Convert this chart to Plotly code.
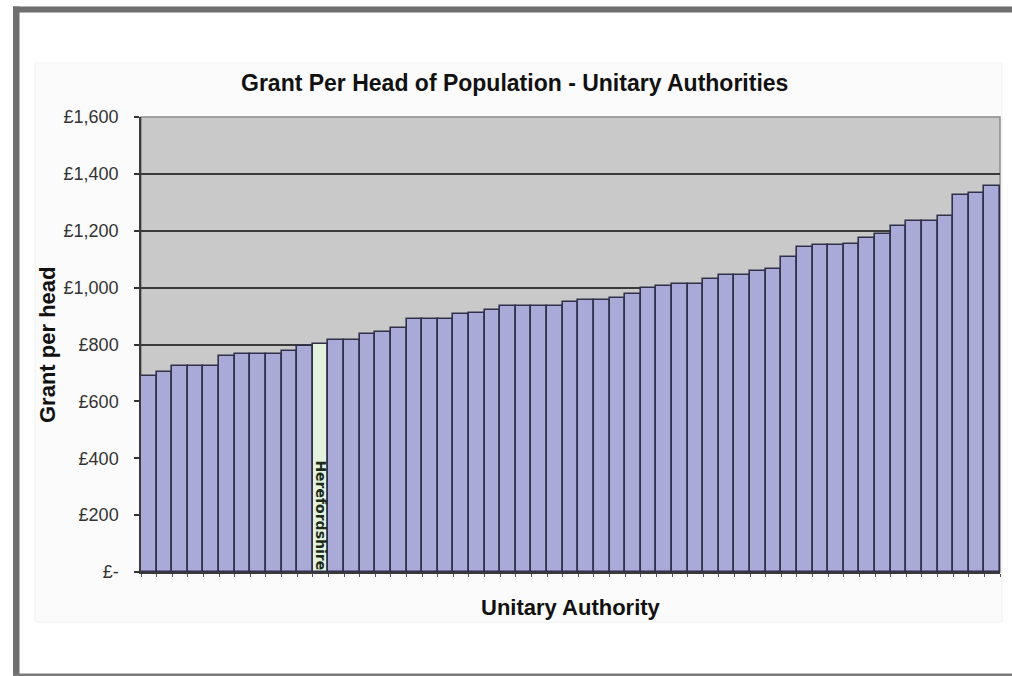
import plotly.graph_objects as go

# Grant per head (£) for each unitary authority, ranked lowest to highest
rank = list(range(1, 56))
grant_per_head = [
    688, 702, 723, 726, 726, 759, 766, 766, 766, 777,
    794, 803, 815, 815, 836, 845, 857, 888, 888, 890,
    906, 911, 923, 937, 937, 937, 937, 950, 958, 958,
    965, 977, 997, 1005, 1012, 1012, 1032, 1044, 1044, 1058,
    1064, 1106, 1143, 1149, 1149, 1155, 1173, 1188, 1216, 1234,
    1234, 1251, 1325, 1333, 1357,
]
highlight_name = "Herefordshire"
highlight_rank = 12

tick_values = [0, 200, 400, 600, 800, 1000, 1200, 1400, 1600]
tick_labels = ["£-", "£200", "£400", "£600", "£800", "£1,000", "£1,200", "£1,400", "£1,600"]

W, H = 1012, 676
L, R, T, B = 141, 1000, 117, 572   # plot area in pixels


def px(x):
    return (x - L) / (R - L)


def py(y):
    return (B - y) / (B - T)


BAR = "#aaaad8"
HIGHLIGHT = "#e2f2dc"
colors = [HIGHLIGHT if r == highlight_rank else BAR for r in rank]

fig = go.Figure(
    go.Bar(
        x=rank,
        y=grant_per_head,
        marker=dict(color=colors, line=dict(color="#30304a", width=1.6)),
        hoverinfo="y",
    )
)

font = "Liberation Sans, Arial, sans-serif"

shapes = [
    # chart area panel
    dict(type="rect", xref="paper", yref="paper", layer="below",
         x0=px(35), x1=px(1002), y0=py(622), y1=py(63),
         fillcolor="#fbfbfb", line=dict(color="#f1f1f1", width=1)),
    # plot area
    dict(type="rect", xref="paper", yref="paper", layer="below",
         x0=0, x1=1, y0=0, y1=1,
         fillcolor="#c9c9c9", line=dict(color="#8c8c8c", width=1.5)),
    # outer frame
    dict(type="rect", xref="paper", yref="paper", layer="above",
         x0=px(13), x1=px(1014), y0=py(12.5), y1=py(6.5),
         fillcolor="#6f6f6f", line=dict(width=0)),
    dict(type="rect", xref="paper", yref="paper", layer="above",
         x0=px(13), x1=px(19.5), y0=py(676), y1=py(6.5),
         fillcolor="#6f6f6f", line=dict(width=0)),
    dict(type="rect", xref="paper", yref="paper", layer="above",
         x0=px(13), x1=px(1014), y0=py(676), y1=py(673.5),
         fillcolor="#7a7a7a", line=dict(width=0)),
]

annotations = [
    dict(text="<b>Grant Per Head of Population - Unitary Authorities</b>",
         xref="paper", yref="paper", x=px(514), y=py(83),
         xanchor="center", yanchor="middle", showarrow=False,
         font=dict(family=font, size=23, color="#111111")),
    dict(text="<b>Unitary Authority</b>",
         xref="paper", yref="paper", x=px(571), y=py(607),
         xanchor="center", yanchor="middle", showarrow=False,
         font=dict(family=font, size=22, color="#111111")),
    dict(text="<b>Grant per head</b>",
         xref="paper", yref="paper", x=px(47), y=py(345),
         xanchor="center", yanchor="middle", textangle=-90, showarrow=False,
         font=dict(family=font, size=22, color="#111111")),
    dict(text="<b>" + highlight_name + "</b>",
         xref="x", yref="y", x=highlight_rank, y=0,
         xanchor="center", yanchor="bottom", textangle=90, showarrow=False,
         yshift=1, borderpad=0,
         font=dict(family="DejaVu Sans", size=14, color="#1c2a1c")),
]

fig.update_layout(
    width=W, height=H, autosize=False,
    margin=dict(l=L, r=W - R, t=T, b=H - B, pad=0),
    paper_bgcolor="white",
    plot_bgcolor="rgba(0,0,0,0)",
    bargap=0,
    showlegend=False,
    shapes=shapes,
    annotations=annotations,
    xaxis=dict(
        range=[0.5, 55.5], showticklabels=False, showgrid=False,
        tickmode="linear", tick0=0.5, dtick=1,
        ticks="outside", ticklen=3, tickcolor="#55556a", tickwidth=1.2,
        showline=True, linecolor="#3a3a3a", linewidth=1.5, zeroline=False,
    ),
    yaxis=dict(
        range=[0, 1600], tickvals=tick_values, ticktext=tick_labels,
        ticks="outside", ticklen=5, tickcolor="#333333", tickwidth=1.5,
        ticklabelstandoff=12,
        tickfont=dict(family=font, size=18, color="#333333"),
        showgrid=True, gridcolor="#3a3a3a", gridwidth=1.5,
        showline=True, linecolor="#3a3a3a", linewidth=1.5, zeroline=False,
    ),
)

fig.write_html("out.html")
